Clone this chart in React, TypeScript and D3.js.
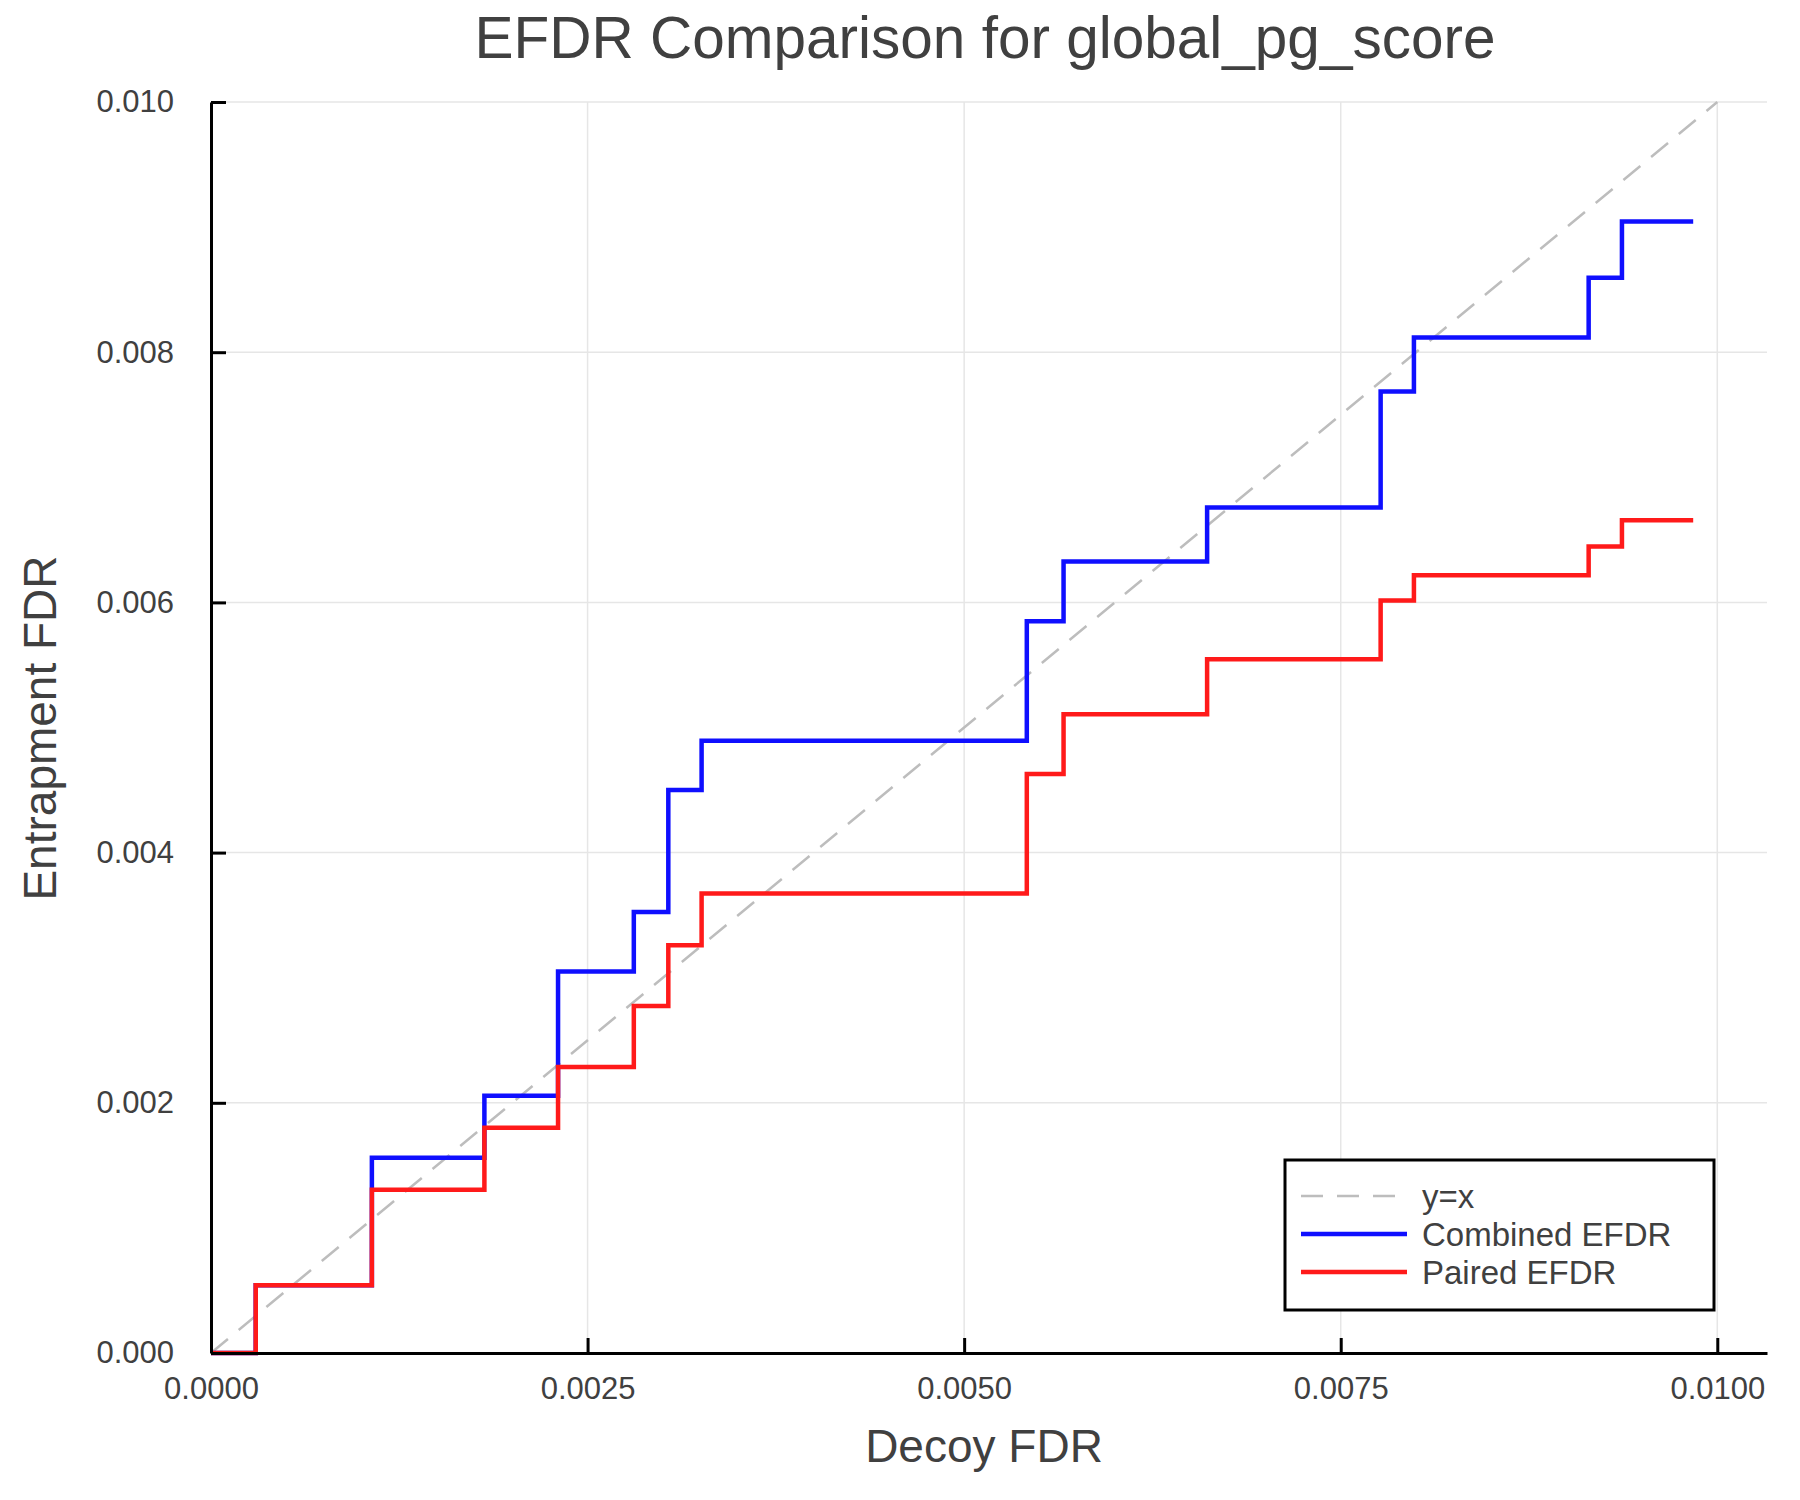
import React, { useEffect, useRef } from 'react'
import * as d3 from 'd3'

// step points (x = Decoy FDR)
const decoyFdr = [0, 0.000297, 0.001068, 0.001815, 0.002304, 0.002807, 0.003036, 0.003257, 0.005416, 0.00566, 0.006613, 0.007765, 0.007986, 0.009146, 0.009367, 0.00984]
const combinedEfdr = [0, 0.000542, 0.001561, 0.002057, 0.003049, 0.003526, 0.0045, 0.004894, 0.00585, 0.006327, 0.006759, 0.007686, 0.008118, 0.008595, 0.009045, 0.009045]
const pairedEfdr = [0, 0.000542, 0.001304, 0.0018, 0.002287, 0.002773, 0.00326, 0.003673, 0.004628, 0.005106, 0.005546, 0.006015, 0.006217, 0.006446, 0.006657, 0.006657]
const diagonal = [0, 0.01]

const xTicks = [0, 0.0025, 0.005, 0.0075, 0.01]
const yTicks = [0, 0.002, 0.004, 0.006, 0.008, 0.01]
const legendItems = ['y=x', 'Combined EFDR', 'Paired EFDR']

const FONT = '"Liberation Sans", Arial, Helvetica, sans-serif'
const TEXT = '#404040'

const App = () => {
    const ref = useRef(null)

    useEffect(() => {
        const width = 1800,
            height = 1500,
            left = 211,
            right = 1767,
            top = 102,
            bottom = 1353

        const x = d3.scaleLinear([0, 0.01033], [left, right])
        const y = d3.scaleLinear([0, 0.01], [bottom, top])

        const svg = d3.select(ref.current)
            .attr('width', width)
            .attr('height', height)
        svg.selectAll('*').remove()

        svg.append('rect').attr('width', width).attr('height', height).attr('fill', 'white')

        // grid
        const grid = svg.append('g').attr('stroke', '#e6e6e6').attr('stroke-width', 1.5)
        xTicks.filter(d => d > 0).forEach(d => {
            grid.append('line').attr('x1', x(d)).attr('x2', x(d)).attr('y1', top).attr('y2', bottom)
        })
        yTicks.filter(d => d > 0).forEach(d => {
            grid.append('line').attr('x1', left).attr('x2', right).attr('y1', y(d)).attr('y2', y(d))
        })

        // y=x reference
        svg.append('path')
            .attr('fill', 'none')
            .attr('stroke', '#bdbdbd')
            .attr('stroke-width', 2.5)
            .attr('stroke-dasharray', '22 14')
            .attr('d', d3.line()(diagonal.map(d => [x(d), y(d)])))

        const step = d3.line().curve(d3.curveStepAfter)

        svg.append('path')
            .attr('fill', 'none')
            .attr('stroke', '#0f0fff')
            .attr('stroke-width', 4.5)
            .attr('d', step(decoyFdr.map((d, i) => [x(d), y(combinedEfdr[i])])))

        svg.append('path')
            .attr('fill', 'none')
            .attr('stroke', '#ff1a1a')
            .attr('stroke-width', 4.5)
            .attr('d', step(decoyFdr.map((d, i) => [x(d), y(pairedEfdr[i])])))

        // x axis
        const xAxis = svg.append('g')
            .attr('transform', `translate(0, ${bottom})`)
            .call(d3.axisBottom(x).tickValues(xTicks).tickFormat(d3.format('.4f')).tickSizeInner(-15).tickSizeOuter(0).tickPadding(24))
        xAxis.select('.domain').attr('stroke', 'black').attr('stroke-width', 3)
        xAxis.selectAll('.tick line').attr('stroke', 'black').attr('stroke-width', 3)
        xAxis.selectAll('.tick text').attr('fill', TEXT).attr('font-family', FONT).attr('font-size', 31)

        // y axis
        const yAxis = svg.append('g')
            .attr('transform', `translate(${left}, 0)`)
            .call(d3.axisLeft(y).tickValues(yTicks).tickFormat(d3.format('.3f')).tickSizeInner(-15).tickSizeOuter(0).tickPadding(37))
        yAxis.select('.domain').attr('stroke', 'black').attr('stroke-width', 3)
        yAxis.selectAll('.tick line').attr('stroke', 'black').attr('stroke-width', 3)
        yAxis.selectAll('.tick text').attr('fill', TEXT).attr('font-family', FONT).attr('font-size', 31)

        // titles
        svg.append('text')
            .attr('x', 985).attr('y', 58)
            .attr('text-anchor', 'middle')
            .attr('font-family', FONT).attr('font-size', 58.5).attr('fill', TEXT)
            .text('EFDR Comparison for global_pg_score')

        svg.append('text')
            .attr('x', 984).attr('y', 1462)
            .attr('text-anchor', 'middle')
            .attr('font-family', FONT).attr('font-size', 46).attr('fill', TEXT)
            .text('Decoy FDR')

        svg.append('text')
            .attr('transform', 'translate(56, 728) rotate(-90)')
            .attr('text-anchor', 'middle')
            .attr('font-family', FONT).attr('font-size', 46).attr('fill', TEXT)
            .text('Entrapment FDR')

        // legend
        const legend = svg.append('g').attr('transform', 'translate(1285, 1160)')
        legend.append('rect')
            .attr('width', 429).attr('height', 150)
            .attr('fill', 'white').attr('stroke', 'black').attr('stroke-width', 3)
        const styles = [
            { stroke: '#bdbdbd', dash: '22 14', w: 2.5 },
            { stroke: '#0f0fff', dash: null, w: 4.5 },
            { stroke: '#ff1a1a', dash: null, w: 4.5 }
        ]
        legendItems.forEach((label, i) => {
            const rowY = 36 + i * 38
            legend.append('line')
                .attr('x1', 16).attr('x2', 122).attr('y1', rowY).attr('y2', rowY)
                .attr('stroke', styles[i].stroke).attr('stroke-width', styles[i].w)
                .attr('stroke-dasharray', styles[i].dash)
            legend.append('text')
                .attr('x', 137).attr('y', rowY)
                .attr('dy', '0.35em')
                .attr('font-family', FONT).attr('font-size', 33).attr('fill', TEXT)
                .text(label)
        })
    }, [])

    return <svg ref={ref} style={{ position: 'absolute', left: 0, top: 0, display: 'block' }} width='1800' height='1500'></svg>
}

export default App
